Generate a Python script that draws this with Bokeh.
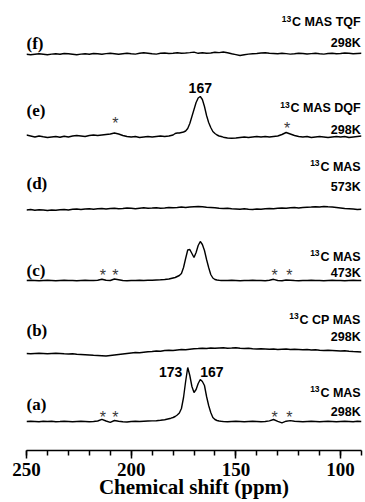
import numpy as np
from bokeh.plotting import figure
from bokeh.models import Range1d, FixedTicker
from bokeh.core.properties import value
from bokeh.embed import file_html
from bokeh.resources import INLINE

# ---------------- data ----------------
# sampling grids (ppm)
ppm_peak = np.concatenate([np.arange(250, 181, -2), np.arange(181, 156, -1), np.arange(156, 89, -2)])
ppm_flat = np.arange(250, 89, -2)

# (a) 13C MAS 298K  (relative intensity)
spec_a = [0, 0.3, 0, -0.3, 0.2, 0, 0.3, -0.2, 0, 0.3,
          0, -0.3, 0, 0.2, 0, -0.2, 0, 0.5, 2.2, 0.5,
          -0.8, 1.0, 0.3, -0.3, -0.5, 0, 0.2, 0, 0.3, 0.5,
          0.6, 0.8, 1.2, 1.8, 2.8,
          3.3, 4, 5, 6.5, 8.5, 13, 24, 40, 54, 46, 35, 29, 32, 38, 42, 40, 36, 25, 16, 9, 4, 2, 1, 0.5, 0.2,
          0, -0.2, 0, 0.2, 0, -0.2, 0, 0.2, 0, -0.2,
          0, 0.6, 2.0, 0.2, -1.3, 0.3, 0.9, 0.3, 0, -0.3,
          0, 0.2, 0, -0.2, 0, 0.2, 0, -0.3, 0, 0.2,
          0, -0.2, 0.3, 0]

# (c) 13C MAS 473K
spec_c = [0, 0.2, 0, -0.2, 0, 0.2, 0, -0.2, 0, 0.2,
          0, 0, -0.2, 0, 0.2, 0, 0, 0.2, 1.2, 0.2,
          0, 1.5, 0.8, 0, -0.3, 0, 0, 0.2, 0, 0.2,
          0.3, 0.5, 0.7, 1.0, 1.5,
          2, 2.5, 3, 4, 5, 7, 13, 22, 30.5, 31, 27, 23, 28, 35, 39, 36, 30, 21, 13, 6, 2.5, 1, 0.5, 0.2, 0,
          0, 0, 0.2, 0, -0.2, 0, 0, 0.2, 0, 0,
          -0.2, 0.3, 1.2, 0, -0.3, 0.5, 0.3, 0, -0.2, 0,
          0, 0.2, 0, 0, -0.2, 0, 0.2, 0, 0, -0.2,
          0, 0.2, 0, 0]

# (e) 13C MAS DQF 298K
spec_e = [1.5, 0.5, -0.5, 0.5, -0.3, -1, -0.5, 0, -0.8, 0.3,
          -0.5, 0.5, 1, 0.5, 0, 1, 1.5, 1, 1.5, 2,
          2.5, 3.5, 2.5, 1, 0, -0.5, 0, -1, -0.5, 0,
          -0.5, 0, 0.5, 0, 0.5,
          1, 1.5, 3, 3.5, 3.5, 4, 4.5, 5.5, 8, 13, 20, 27, 34, 38.5, 40, 37, 30, 21, 14, 9, 5, 3, 1.5, 0.5, 0,
          -0.7, -1.5, -1.7, -1.5, -1, -0.5, -1, -0.5, 0, -0.5,
          0, -0.5, 0, 0.5, 2, 4, 2.5, 1, 0, -0.5,
          0, -1, -0.5, 0, -0.5, -1, -0.5, 0, -0.5, 0,
          -1, -0.5, 0, 0.5]

# (b) 13C CP MAS 298K
spec_b = [0, -0.3, 0, 0.3, 0, -0.3, 0, 0.2, 0, -0.3,
          -0.5, -0.3, -0.8, -1, -1.2, -1.5, -1.8, -2, -2.2, -2.5,
          -2, -1.5, -1, -0.5, 0, 0.5, 1, 0.8, 1.3, 1.8,
          2, 2.5, 2.2, 3, 3.3, 3, 3.5, 4, 3.8, 4.3,
          4.8, 5, 5.3, 5, 5.5, 5.2, 5.5, 5.8, 5.3, 5.5,
          5.8, 5.2, 5, 5.3, 4.8, 4.5, 4.8, 4.5, 4.2, 4.5,
          4, 4.3, 4.5, 4, 4.2, 4, 3.8, 4, 3.5, 3.8,
          3.3, 3, 3.2, 3, 2.8, 2.5, 2.7, 2.3, 2, 1.8,
          1.5]

# (d) 13C MAS 573K
spec_d = [-1, -0.5, -1.2, -0.8, -1, -1.5, -1, -1.2, -0.8, -0.5,
          -1, -0.3, 0, -0.5, 0, 0.3, -0.2, 0.3, 0.5, 0,
          0.5, 0.8, 0.3, 0.5, 1, 0.8, 0.3, 0.8, 1.2, 0.8,
          1, 1.3, 0.8, 1, 1.5, 1.2, 1.5, 2, 1.5, 2,
          2.3, 2.5, 2.3, 1.8, 1.5, 1.2, 0.8, 0.5, 0.8, 0.2,
          0, -0.3, 0.2, -0.2, -0.5, 0, -0.3, 0.2, 0.5, 0.3,
          0.8, 1, 0.7, 1.2, 1.5, 1, 1.5, 1.8, 2, 2.3,
          2, 2.5, 2.2, 2, 1.5, 1, 0.5, 0.3, 0, -0.5,
          -0.3]

# (f) 13C MAS TQF 298K
spec_f = [-0.5, -1, -0.5, 0, -0.5, -1, -0.3, 0, -0.5, 0.3,
          0, -0.5, -1, -0.3, 0, -0.5, 0.3, 0, -0.5, 0.2,
          0.5, 0, -0.5, 0, 0.5, 0, -0.3, 0.5, 1, 0.5,
          0, -0.3, 0.5, 0.8, 0.3, 0.5, 1, 0.5, 0.8, 1.2,
          1.7, 0.5, 1, 0.5, 0.8, 1.5, 1.2, 1.8, 1, 0,
          -0.8, -1.7, -1, -0.3, 0, 0.3, 0.8, 1, 0.5, 0.3,
          0, 0.5, 0.2, -0.3, 0, 0.5, 0.3, -0.2, 0.2, 0.5,
          0, -0.3, 0.3, 0.5, 0, 0.3, 0.8, 0.5, 0, 0.3,
          0.5]

panel_letters = ["(a)", "(b)", "(c)", "(d)", "(e)", "(f)"]
isotope = ["13"] * 6
exp_names = ["C MAS", "C CP MAS", "C MAS", "C MAS", "C MAS DQF", "C MAS TQF"]
temps = ["298K", "298K", "473K", "573K", "298K", "298K"]
peak_labels = ["173", "167", "167"]
peak_label_ppm = [175.6, 167.0, 167.0]
sideband_ppm = [213.5, 207.5, 131.5, 124.5]
sideband_ppm_e = [207.5, 125.5]
major_ticks = [250, 200, 150, 100]
minor_ticks = list(range(90, 251, 10))

# ---------------- layout ----------------
H = 450  # frame height in px (data units = px)
def Y(py):
    return H - py

base_px = {"a": 421, "b": 353, "c": 280, "d": 208.5, "e": 136, "f": 53.3}
letter_px = [404, 330, 270, 183, 110, 43]
name_px = [392, 319, 256, 166, 107.5, 21.5]
temp_px = [411, 336, 272, 186.5, 129, 42]

NAME_FS = 12.5
# Arial/Liberation Sans Bold advance widths (1/1000 em) to place the superscript
_w = {" ": 278, "C": 722, "M": 833, "A": 722, "S": 667, "T": 611, "Q": 778, "F": 611, "D": 722, "P": 667}
name_w = [sum(_w[c] for c in s) * NAME_FS / 1000.0 for s in exp_names]

p = figure(width=365, height=502, output_backend="svg", toolbar_location=None,
           x_range=Range1d(250, 90), y_range=Range1d(0, H),
           y_axis_location=None, min_border_left=26, min_border_right=4,
           min_border_top=0, min_border_bottom=52)
p.outline_line_color = None
p.grid.visible = False
p.background_fill_color = "white"

specs = [("a", ppm_peak, spec_a), ("b", ppm_flat, spec_b), ("c", ppm_peak, spec_c),
         ("d", ppm_flat, spec_d), ("e", ppm_peak, spec_e), ("f", ppm_flat, spec_f)]
for key, xs, ys in specs:
    p.line(xs, Y(base_px[key]) + np.array(ys), line_color="black", line_width=1.4)

# panel letters
p.text(x=[250.0] * 6, y=[Y(v) for v in letter_px], text=panel_letters,
       text_font=value("Liberation Serif"), text_font_style="bold", text_font_size="17px",
       text_align="left", text_baseline="middle", text_color="black")
# experiment names (with superscript isotope) & temperatures
XR = 90.4
p.text(x=[XR] * 6, y=[Y(v) for v in name_px], text=exp_names,
       text_font=value("Liberation Sans"), text_font_style="bold", text_font_size=f"{NAME_FS}px",
       text_align="right", text_baseline="middle", text_color="black")
p.text(x=[XR] * 6, y=[Y(v) for v in name_px], text=isotope,
       x_offset=[-(w + 0.8) for w in name_w], y_offset=-3.5,
       text_font=value("Liberation Sans"), text_font_style="bold", text_font_size="8.5px",
       text_align="right", text_baseline="middle", text_color="black")
p.text(x=[XR] * 6, y=[Y(v) for v in temp_px], text=temps,
       text_font=value("Liberation Sans"), text_font_style="bold", text_font_size=f"{NAME_FS}px",
       text_align="right", text_baseline="middle", text_color="black")
# peak labels
p.text(x=[peak_label_ppm[0]], y=[Y(371.5)], text=[peak_labels[0]],
       text_font=value("Liberation Sans"), text_font_style="bold", text_font_size="14px",
       text_align="right", text_baseline="middle", text_color="black")
p.text(x=[peak_label_ppm[1]], y=[Y(371.5)], text=[peak_labels[1]],
       text_font=value("Liberation Sans"), text_font_style="bold", text_font_size="14px",
       text_align="left", text_baseline="middle", text_color="black")
p.text(x=[peak_label_ppm[2]], y=[Y(87)], text=[peak_labels[2]],
       text_font=value("Liberation Sans"), text_font_style="bold", text_font_size="14px",
       text_align="center", text_baseline="middle", text_color="black")

# spinning sideband asterisks (visual centre -> alphabetic baseline offset)
ast_off = 5
ax = sideband_ppm + sideband_ppm + sideband_ppm_e
ay = [Y(411.5) - ast_off] * 4 + [Y(270) - ast_off] * 4 + [Y(118) - ast_off, Y(123) - ast_off]
p.text(x=ax, y=ay, text=["*"] * len(ax),
       text_font=value("Liberation Sans"), text_font_size="16px",
       text_align="center", text_baseline="alphabetic", text_color="#3a3a3a")

# x axis
xa = p.xaxis[0]
xa.ticker = FixedTicker(ticks=major_ticks, minor_ticks=minor_ticks)
xa.axis_label = "Chemical shift (ppm)"
xa.axis_line_width = 1.5
xa.axis_line_color = "black"
xa.major_tick_line_width = 1.5
xa.minor_tick_line_width = 1.5
xa.major_tick_in = 0
xa.major_tick_out = 8
xa.minor_tick_in = 0
xa.minor_tick_out = 5
xa.major_label_standoff = 4
xa.axis_label_standoff = -4
xa.major_label_text_font = "Liberation Serif"
xa.major_label_text_font_style = "bold"
xa.major_label_text_font_size = "19px"
xa.major_label_text_color = "black"
xa.axis_label_text_font = "Liberation Serif"
xa.axis_label_text_font_style = "bold"
xa.axis_label_text_font_size = "21px"
xa.axis_label_text_color = "black"

open("out.html", "w").write(file_html(p, INLINE))
